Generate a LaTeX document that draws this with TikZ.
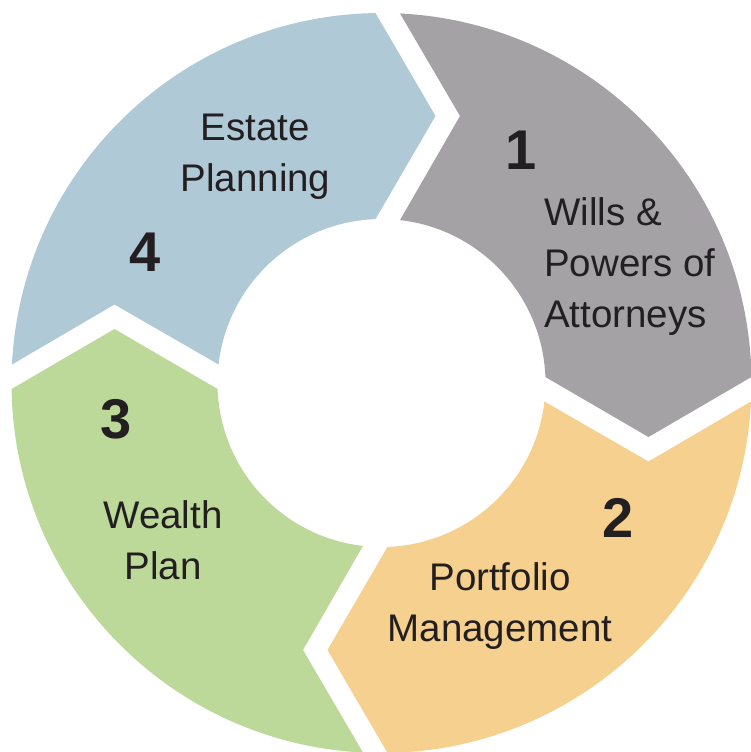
\documentclass[tikz,border=0pt]{standalone}
\usepackage{fontspec}
\setmainfont{Liberation Sans}
\usetikzlibrary{calc}
\definecolor{segwills}{RGB}{164,162,165}
\definecolor{segport}{RGB}{245,208,142}
\definecolor{segwealth}{RGB}{188,217,154}
\definecolor{segestate}{RGB}{176,201,214}
\definecolor{inkdark}{RGB}{35,31,32}
\tikzset{
  steplabel/.style={inkdark,font=\fontsize{38.5}{51}\selectfont,inner sep=0pt},
  stepnum/.style={inkdark,font=\fontsize{56}{60}\selectfont\bfseries,inner sep=0pt}
}

\begin{document}
\begin{tikzpicture}[x=1pt,y=1pt]
\useasboundingbox (-381.5,-369) rectangle (368.5,383);
\coordinate (O) at (0,0);

% one arrow segment, turned four times
\foreach \ang/\col in {0/segwills,-90/segport,-180/segwealth,-270/segestate}{
  \fill[\col,rotate=\ang] (87.134:370pt)
    arc[start angle=87.134,end angle=0.929,radius=370pt] --
    (267,-54) coordinate (tip) --
    (2.097:164pt)
    arc[start angle=2.097,end angle=83.523,radius=164pt] --
    (78.5,267) -- cycle;
}

\node[stepnum] (n1) at (139.5,233) {1};
\node[stepnum] (n2) at (236.5,-135) {2};
\node[stepnum] (n3) at (-265.5,-36.5) {3};
\node[stepnum] (n4) at (-236,131) {4};

% base = last line
\node[steplabel,anchor=base west,align=left] (wills) at (162.5,55)
  {Wills \&\\Powers of\\Attorneys};
\node[steplabel,anchor=base,align=center] (portfolio) at (118.5,-258)
  {Portfolio\\Management};
\node[steplabel,anchor=base,align=center] (wealth) at (-218.5,-196)
  {Wealth\\Plan};
\node[steplabel,anchor=base,align=center] (estate) at (-126,191)
  {Estate\\Planning};
\end{tikzpicture}
\end{document}
